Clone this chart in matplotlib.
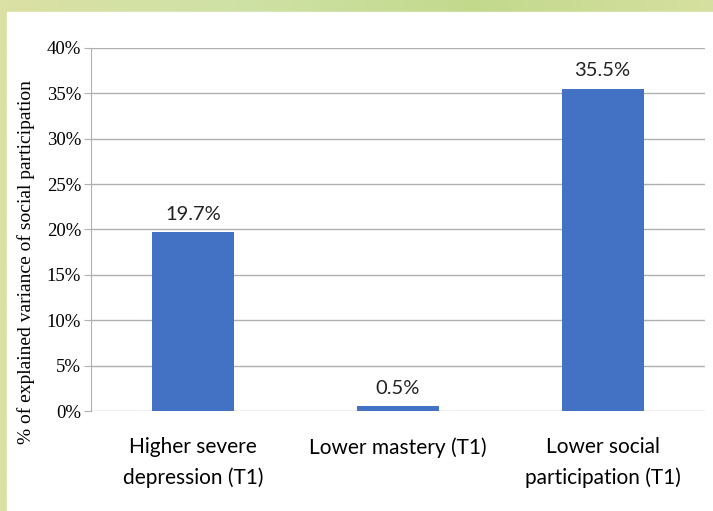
import numpy as np
import matplotlib.pyplot as plt
from matplotlib.patches import Rectangle

categories = ['Higher severe\ndepression (T1)', 'Lower mastery (T1)',
              'Lower social\nparticipation (T1)']
values = [19.7, 0.5, 35.5]
yticks = [0, 5, 10, 15, 20, 25, 30, 35, 40]

fig = plt.figure(figsize=(7.13, 5.11), dpi=100)

# greenish frame behind the white panel
bg = fig.add_axes([0, 0, 1, 1], zorder=-10)
grad = np.linspace(0, 1, 256).reshape(1, -1)
bg.imshow(grad, aspect='auto', extent=[0, 1, 0, 1],
          cmap=plt.matplotlib.colors.LinearSegmentedColormap.from_list(
              'frame', ['#dbe0a4', '#cfe2a6', '#c2d98c', '#d6e0a0']))
bg.add_patch(Rectangle((7 / 713, 0), 1, 1 - 12 / 511, color='white',
                       transform=bg.transAxes))
bg.set_xlim(0, 1)
bg.set_ylim(0, 1)
bg.axis('off')

ax = fig.add_axes([91 / 713, 1 - 411 / 511, 614 / 713, 363 / 511])
ax.set_facecolor('none')
x = np.arange(len(categories))
bars = ax.bar(x, values, width=0.4, color='#4372c4', zorder=3)

for b, v in zip(bars, values):
    ax.annotate(f'{v:.1f}%', (b.get_x() + b.get_width() / 2, v),
                xytext=(0, 7), textcoords='offset points',
                ha='center', va='bottom', fontsize=14.5, family='Lato',
                color='#222222')

ax.set_xlim(-0.5, 2.5)
ax.set_ylim(0, 40)
ax.set_yticks(yticks)
ax.set_yticklabels([f'{t}%' for t in yticks], family='Liberation Serif',
                   fontsize=13.5)
ax.set_xticks(x)
ax.set_xticklabels(categories, family='Lato', fontsize=15, linespacing=1.6)
ax.yaxis.grid(True, color='#b0b0b0', linewidth=1, zorder=0)
ax.tick_params(axis='y', length=5, color='#b0b0b0', pad=2)
ax.tick_params(axis='x', length=0, pad=19)

for side in ['top', 'right', 'bottom']:
    ax.spines[side].set_visible(False)
ax.spines['left'].set_color('#b0b0b0')

ax.set_ylabel('% of explained variance of social participation',
              family='Liberation Serif', fontsize=14)
ax.yaxis.set_label_coords(-0.092, 0.41)

fig.savefig('out.png', dpi=100)
